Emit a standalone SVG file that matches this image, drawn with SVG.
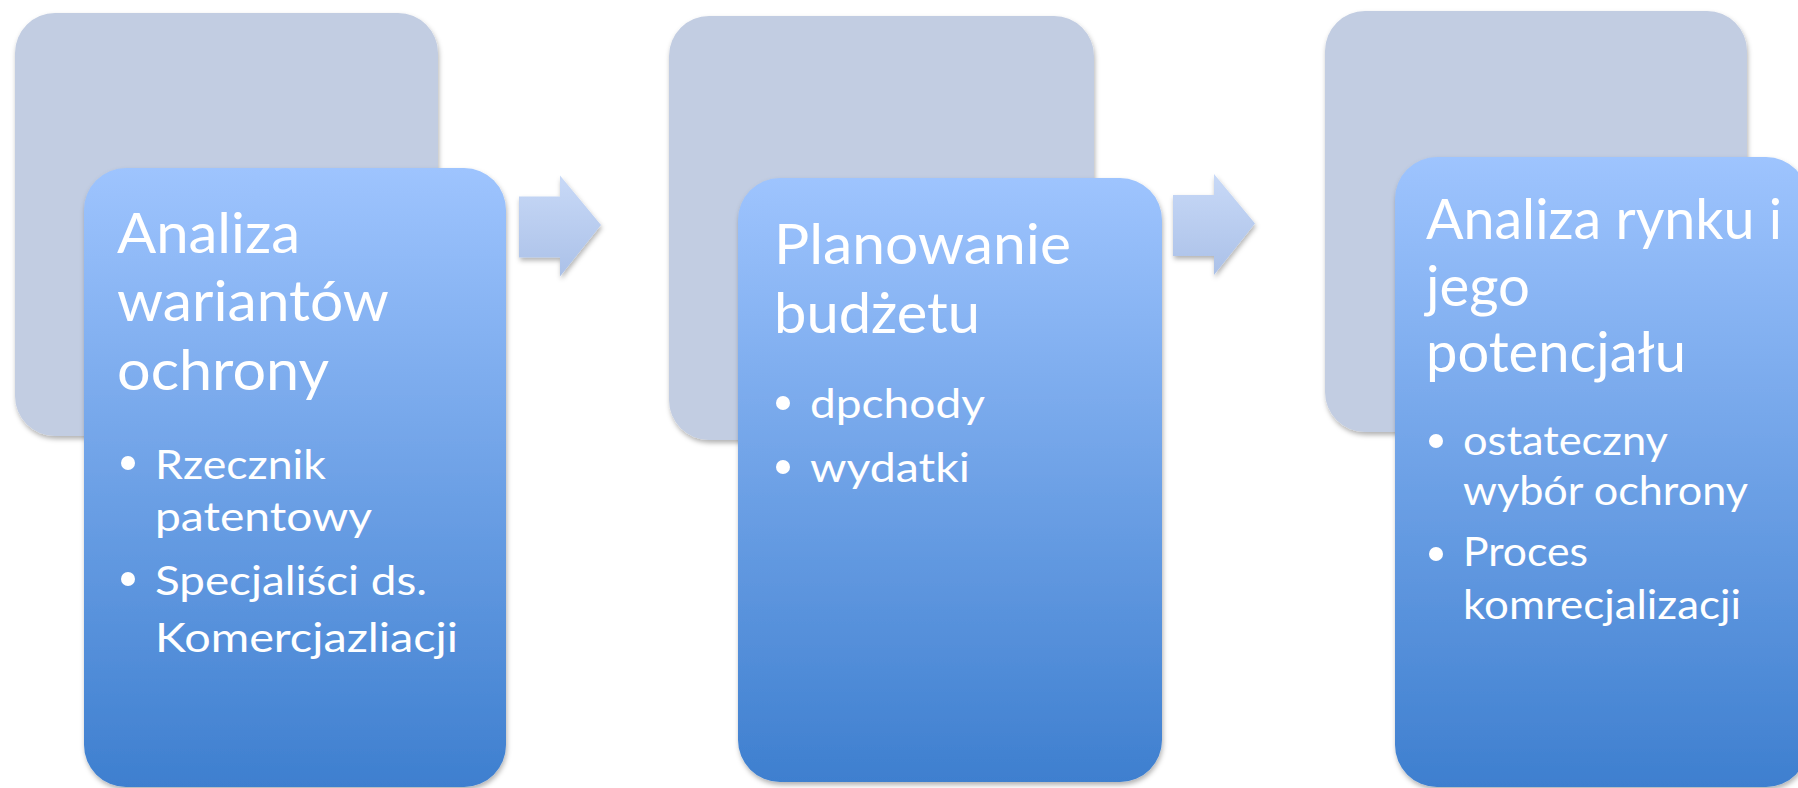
<svg xmlns="http://www.w3.org/2000/svg" width="1798" height="788" viewBox="0 0 1798 788">
<defs>
<linearGradient id="gFront" x1="0" y1="0" x2="0" y2="1">
<stop offset="0" stop-color="#9EC4FE"/>
<stop offset="1" stop-color="#3E7FCF"/>
</linearGradient>
<linearGradient id="gArrow" x1="0" y1="0" x2="0" y2="1">
<stop offset="0" stop-color="#C8D9F7"/>
<stop offset="1" stop-color="#ABC1E8"/>
</linearGradient>
<filter id="shadow" x="-10%" y="-10%" width="120%" height="120%">
<feDropShadow dx="1" dy="3" stdDeviation="2.5" flood-color="#000" flood-opacity="0.3"/>
</filter>
<path id="arrowShape" d="M0,21 H41 V0 L82,49.5 L41,101 V82 H0 Z"/>
</defs>
<style>
.back{fill:#C2CDE2;filter:url(#shadow)}
.front{fill:url(#gFront);filter:url(#shadow)}
.arrow{fill:url(#gArrow);filter:url(#shadow)}
.title{font-family:Lato,"Liberation Sans",sans-serif;font-size:57px;fill:#FFFFFF}
.item{font-family:Lato,"Liberation Sans",sans-serif;font-size:40px;fill:#FFFFFF}
.bullet{fill:#FFFFFF}
</style>
<rect width="1798" height="788" fill="#FFFFFF"/>
<g id="connectors">
<use href="#arrowShape" class="arrow" transform="translate(519,175.5)"/>
<use href="#arrowShape" class="arrow" transform="translate(1173,174)"/>
</g>
<g id="node1">
<rect class="back" x="15" y="13" width="423" height="423" rx="40"/>
<rect class="front" x="84" y="168" width="422" height="619" rx="42"/>
<text class="title" x="117" y="253" textLength="183" lengthAdjust="spacingAndGlyphs">Analiza</text>
<text class="title" x="117" y="321" textLength="272" lengthAdjust="spacingAndGlyphs">wariantów</text>
<text class="title" x="117" y="390" textLength="212" lengthAdjust="spacingAndGlyphs">ochrony</text>
<circle class="bullet" cx="128" cy="463" r="7"/>
<text class="item" x="155" y="479" textLength="171" lengthAdjust="spacingAndGlyphs">Rzecznik</text>
<text class="item" x="155" y="531" textLength="217" lengthAdjust="spacingAndGlyphs">patentowy</text>
<circle class="bullet" cx="128" cy="579" r="7"/>
<text class="item" x="155" y="595" textLength="272" lengthAdjust="spacingAndGlyphs">Specjaliści ds.</text>
<text class="item" x="155" y="652" textLength="303" lengthAdjust="spacingAndGlyphs">Komercjazliacji</text>
</g>
<g id="node2">
<rect class="back" x="669" y="16" width="425" height="424" rx="40"/>
<rect class="front" x="738" y="178" width="424" height="604" rx="42"/>
<text class="title" x="774" y="264" textLength="297" lengthAdjust="spacingAndGlyphs">Planowanie</text>
<text class="title" x="774" y="333" textLength="206" lengthAdjust="spacingAndGlyphs">budżetu</text>
<circle class="bullet" cx="783" cy="403" r="7"/>
<text class="item" x="810" y="418" textLength="175" lengthAdjust="spacingAndGlyphs">dpchody</text>
<circle class="bullet" cx="783" cy="467" r="7"/>
<text class="item" x="810" y="482" textLength="160" lengthAdjust="spacingAndGlyphs">wydatki</text>
</g>
<g id="node3">
<rect class="back" x="1325" y="11" width="422" height="421" rx="40"/>
<rect class="front" x="1395" y="157" width="413" height="630" rx="42"/>
<text class="title" x="1426" y="239" font-size="55" textLength="356" lengthAdjust="spacingAndGlyphs">Analiza rynku i</text>
<text class="title" x="1426" y="305.5" font-size="55" textLength="104" lengthAdjust="spacingAndGlyphs">jego</text>
<text class="title" x="1426" y="372" font-size="55" textLength="260" lengthAdjust="spacingAndGlyphs">potencjału</text>
<circle class="bullet" cx="1436" cy="441" r="7"/>
<text class="item" x="1463" y="455" textLength="205" lengthAdjust="spacingAndGlyphs">ostateczny</text>
<text class="item" x="1463" y="505" textLength="285" lengthAdjust="spacingAndGlyphs">wybór ochrony</text>
<circle class="bullet" cx="1436" cy="554" r="7"/>
<text class="item" x="1463" y="566" textLength="125" lengthAdjust="spacingAndGlyphs">Proces</text>
<text class="item" x="1463" y="619" textLength="278" lengthAdjust="spacingAndGlyphs">komrecjalizacji</text>
</g>
</svg>
